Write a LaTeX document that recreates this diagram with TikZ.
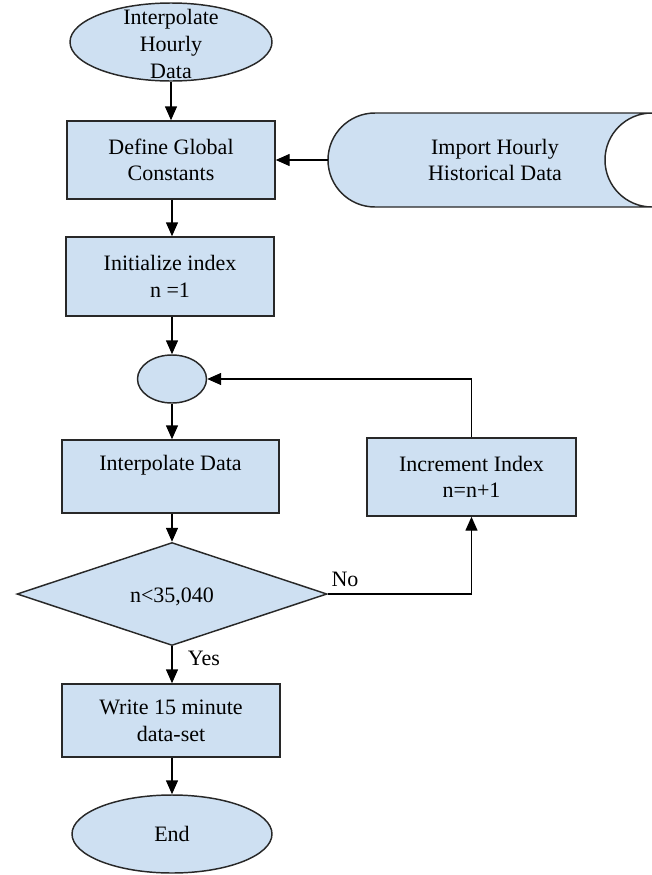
\documentclass[tikz,border=0pt]{standalone}
\usepackage{fontspec}
\setmainfont{Liberation Serif}
\usetikzlibrary{shapes.geometric,arrows.meta}
\definecolor{boxfill}{RGB}{206,224,242}
\definecolor{boxline}{RGB}{40,40,40}
\tikzset{
  shapebase/.style={draw=boxline,fill=boxfill,line width=1.1pt,inner sep=0pt,align=center},
  procbox/.style={shapebase,rectangle},
  termell/.style={shapebase,ellipse},
  decbox/.style={shapebase,diamond},
  txt/.style={inner sep=0pt,align=center},
  conn/.style={line width=1.1pt,-{Triangle[length=10.5pt,width=9pt]}},
}
\begin{document}
\begin{tikzpicture}[x=0.75pt,y=-0.75pt,font=\fontsize{16.5}{20}\selectfont]
\useasboundingbox (0,0) rectangle (652,875);
% start
\node[termell,minimum width=151.5pt,minimum height=58.5pt] (start) at (171,42) {};
\node[txt] (starttxt) at (171,44) {Interpolate\\Hourly\\Data};
% define
\node[procbox,minimum width=156pt,minimum height=58.5pt] (define) at (171,160) {Define Global\\Constants};
% import data (stored data shape, cropped at right)
\draw[shapebase] (375,113) -- (652,113)
  .. controls (626,113) and (605,134) .. (605,160)
  .. controls (605,186) and (626,207) .. (652,207)
  -- (375,207)
  .. controls (349,207) and (328,186) .. (328,160)
  .. controls (328,134) and (349,113) .. (375,113) -- cycle;
\coordinate (impL) at (328,160);
\node[txt] (import) at (495,160) {Import Hourly\\Historical Data};
% init
\node[procbox,minimum width=156pt,minimum height=59.25pt] (init) at (170,276.5) {Initialize index\\n =1};
% connector circle
\node[termell,minimum width=51.75pt,minimum height=36pt] (circ) at (172,379) {};
% interpolate
\node[procbox,minimum width=162.75pt,minimum height=54.75pt] (interp) at (170.5,476.5) {};
\node[txt] (interptxt) at (170.5,465) {Interpolate Data};
% decision
\node[decbox,minimum width=232.5pt,minimum height=77.25pt] (dec) at (172,594) {};
\node[txt] (dectxt) at (172,597) {n<35,040};
% increment
\node[procbox,minimum width=156.75pt,minimum height=58.5pt] (incr) at (471.5,477) {Increment Index\\n=n+1};
% write
\node[procbox,minimum width=163.5pt,minimum height=54.75pt] (write) at (171,720.5) {Write 15 minute\\data-set};
% end
\node[termell,minimum width=150pt,minimum height=58.5pt] (end) at (172,834) {End};
% connectors
\draw[conn] (start.south) -- (define.north -| start.south);
\draw[conn] (impL) -- (define.east);
\draw[conn] (define.south -| circ.north) -- (init.north -| circ.north);
\draw[conn] (init.south -| circ.north) -- (circ.north);
\draw[conn] (circ.south) -- (interp.north -| circ.south);
\draw[conn] (interp.south -| dec.north) -- (dec.north);
\draw[conn] (dec.south) -- (write.north -| dec.south);
\draw[conn] (write.south -| end.north) -- (end.north);
\draw[conn] (dec.east) -| (incr.south);
\draw[conn] (incr.north) |- (circ.east);
% labels
\node[txt] (nolbl) at (345,579) {No};
\node[txt] (yeslbl) at (204,658) {Yes};
\end{tikzpicture}
\end{document}
